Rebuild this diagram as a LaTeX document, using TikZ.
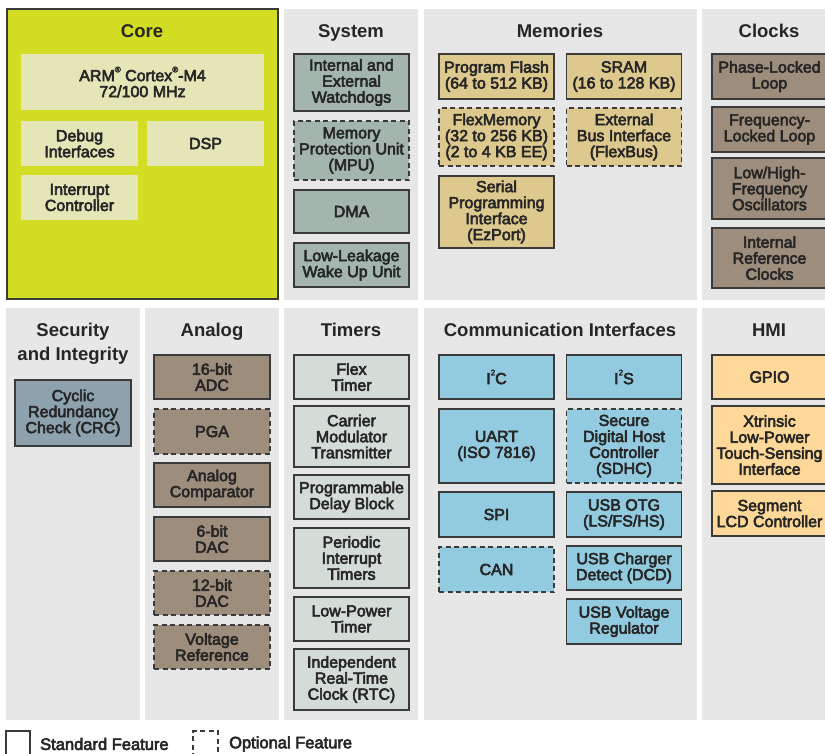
\documentclass[tikz,border=0pt]{standalone}
\usepackage{fontspec}
\setmainfont{Liberation Sans}
\newfontfamily\medsans{Liberation Sans}[FakeBold=3.5]
\newfontfamily\boldsans{Liberation Sans Bold}
\usepackage{xcolor}
\definecolor{panelgris}{HTML}{E7E7E7}
\definecolor{borde}{HTML}{3A3A3A}
\definecolor{corefondo}{HTML}{D3DD23}
\definecolor{coreclaro}{HTML}{E4E6B8}
\definecolor{sistema}{HTML}{A3B5AD}
\definecolor{memoria}{HTML}{DDC88E}
\definecolor{marron}{HTML}{9D8D7C}
\definecolor{seguridad}{HTML}{8EA2AD}
\definecolor{tempor}{HTML}{D4DCD7}
\definecolor{comunic}{HTML}{92CBE0}
\definecolor{hmicolor}{HTML}{FDD898}
\usetikzlibrary{positioning}
\newcommand{\supchico}[1]{\raisebox{0.55em}{\fontsize{8}{8}\selectfont #1}}

\begin{document}
\begin{tikzpicture}[
  x=1pt, y=-1pt,
  panel/.style={fill=panelgris, draw=none},
  titulo/.style={font=\boldsans\fontsize{18.5}{24}\selectfont, align=center,
                 text=black!85, inner sep=0pt, anchor=base},
  blk/.style={
    rectangle, draw=borde, line width=1.3pt,
    font=\medsans\fontsize{16}{16}\selectfont, text=black!85,
    align=center, inner sep=0pt, minimum width=115pt
  },
  opt/.style={dash pattern=on 5pt off 3.5pt},
  corebox/.style={blk, fill=coreclaro, draw=none, minimum width=117pt},
  sysbox/.style={blk, fill=sistema},
  membox/.style={blk, fill=memoria},
  clkbox/.style={blk, fill=marron},
  secbox/.style={blk, fill=seguridad, minimum width=116pt},
  anabox/.style={blk, fill=marron, minimum width=116pt},
  tmrbox/.style={blk, fill=tempor},
  combox/.style={blk, fill=comunic},
  hmibox/.style={blk, fill=hmicolor},
  leyenda/.style={font=\medsans\fontsize{16.5}{16}\selectfont, text=black!85,
                  anchor=west, inner sep=0pt}
]
  \clip (0,0) rectangle (825,753);
  \fill[white] (0,0) rectangle (825,753);

  % panels, top row
  \fill[corefondo] (7,9) rectangle (278,299);
  \draw[borde, line width=2.4pt] (7,9) rectangle (278,299);
  \path[panel] (284,9) rectangle (418,300);
  \path[panel] (424,9) rectangle (697,300);
  \path[panel] (702,9) rectangle (830,300);
  % panels, bottom row
  \path[panel] (6,308) rectangle (140,720);
  \path[panel] (145,308) rectangle (279,720);
  \path[panel] (284,308) rectangle (418,720);
  \path[panel] (424,308) rectangle (697,720);
  \path[panel] (702,308) rectangle (830,720);

  % Core
  \node[titulo] (tcore) at (142,37.5) {Core};
  \node[corebox, minimum width=243pt, minimum height=56pt] (arm) at (142.5,82)
    {ARM\supchico{®} Cortex\supchico{®}-M4\\72/100 MHz};
  \node[corebox, minimum height=45pt] (debug) at (79.5,143.5) {Debug\\Interfaces};
  \node[corebox, minimum height=45pt] (dsp) at (205.5,143.5) {DSP};
  \node[corebox, minimum height=45pt] (nvic) at (79.5,197.5) {Interrupt\\Controller};

  % System
  \node[titulo] (tsys) at (351,37.5) {System};
  \node[sysbox, minimum height=57pt] (wdog) at (351.5,82.5) {Internal and\\External\\Watchdogs};
  \node[sysbox, opt, minimum height=59pt] (mpu) at (351.5,150.5) {Memory\\Protection Unit\\(MPU)};
  \node[sysbox, minimum height=43pt] (dma) at (351.5,211.5) {DMA};
  \node[sysbox, minimum height=44pt] (llwu) at (351.5,265) {Low-Leakage\\Wake Up Unit};

  % Memories
  \node[titulo] (tmem) at (560,37.5) {Memories};
  \node[membox, minimum height=45pt] (pflash) at (496.5,76.5) {Program Flash\\(64 to 512 KB)};
  \node[membox, minimum height=45pt] (sram) at (624,76.5) {SRAM\\(16 to 128 KB)};
  \node[membox, opt, minimum height=58pt] (flexmem) at (496.5,137) {FlexMemory\\(32 to 256 KB)\\(2 to 4 KB EE)};
  \node[membox, opt, minimum height=58pt] (flexbus) at (624,137) {External\\Bus Interface\\(FlexBus)};
  \node[membox, minimum height=72pt] (ezport) at (496.5,212) {Serial\\Programming\\Interface\\(EzPort)};

  % Clocks
  \node[titulo] (tclk) at (769,37.5) {Clocks};
  \node[clkbox, minimum height=45pt] (pll) at (769.5,76.5) {Phase-Locked\\Loop};
  \node[clkbox, minimum height=45pt] (fll) at (769.5,129.5) {Frequency-\\Locked Loop};
  \node[clkbox, minimum height=61pt] (osc) at (769.5,188.5) {Low/High-\\Frequency\\Oscillators};
  \node[clkbox, minimum height=60pt] (irc) at (769.5,258) {Internal\\Reference\\Clocks};

  % Security and Integrity
  \node[titulo, anchor=center] (tsec) at (73,343.5) {Security\\and Integrity};
  \node[secbox, minimum height=66pt] (crc) at (73,413) {Cyclic\\Redundancy\\Check (CRC)};

  % Analog
  \node[titulo] (tana) at (212,336.5) {Analog};
  \node[anabox, minimum height=44pt] (adc) at (212,377) {16-bit\\ADC};
  \node[anabox, opt, minimum height=45pt] (pga) at (212,431.5) {PGA};
  \node[anabox, minimum height=44pt] (cmp) at (212,485) {Analog\\Comparator};
  \node[anabox, minimum height=44pt] (dacsix) at (212,539) {6-bit\\DAC};
  \node[anabox, opt, minimum height=44pt] (dactwelve) at (212,593) {12-bit\\DAC};
  \node[anabox, opt, minimum height=44pt] (vref) at (212,647) {Voltage\\Reference};

  % Timers
  \node[titulo] (ttmr) at (351,336.5) {Timers};
  \node[tmrbox, minimum height=44pt] (ftm) at (351.5,377) {Flex\\Timer};
  \node[tmrbox, minimum height=61pt] (cmt) at (351.5,436.5) {Carrier\\Modulator\\Transmitter};
  \node[tmrbox, minimum height=44pt] (pdb) at (351.5,497) {Programmable\\Delay Block};
  \node[tmrbox, minimum height=60pt] (pit) at (351.5,558) {Periodic\\Interrupt\\Timers};
  \node[tmrbox, minimum height=44pt] (lptmr) at (351.5,619) {Low-Power\\Timer};
  \node[tmrbox, minimum height=61pt] (rtc) at (351.5,679.5) {Independent\\Real-Time\\Clock (RTC)};

  % Communication Interfaces
  \node[titulo] (tcom) at (560,336.5) {Communication Interfaces};
  \node[combox, minimum height=44pt] (iic) at (496.5,377) {I\supchico{2}C};
  \node[combox, minimum height=74pt] (uart) at (496.5,446) {UART\\(ISO 7816)};
  \node[combox, minimum height=45pt] (spi) at (496.5,514.5) {SPI};
  \node[combox, opt, minimum height=45pt] (can) at (496.5,569.5) {CAN};
  \node[combox, minimum height=44pt] (iis) at (624,377) {I\supchico{2}S};
  \node[combox, opt, minimum height=74pt] (sdhc) at (624,446) {Secure\\Digital Host\\Controller\\(SDHC)};
  \node[combox, minimum height=45pt] (usbotg) at (624,514.5) {USB OTG\\(LS/FS/HS)};
  \node[combox, minimum height=44pt] (usbdcd) at (624,568) {USB Charger\\Detect (DCD)};
  \node[combox, minimum height=45pt] (usbreg) at (624,621.5) {USB Voltage\\Regulator};

  % HMI
  \node[titulo] (thmi) at (769,336.5) {HMI};
  \node[hmibox, minimum height=44pt] (gpio) at (769.5,377) {GPIO};
  \node[hmibox, minimum height=78pt] (tsi) at (769.5,445) {Xtrinsic\\Low-Power\\Touch-Sensing\\Interface};
  \node[hmibox, minimum height=45pt] (slcd) at (769.5,513.5) {Segment\\LCD Controller};

  % legend
  \node[blk, fill=white, minimum width=24pt, minimum height=30pt] (legstd) at (18,746) {};
  \node[leyenda] (txtstd) at (40,744) {Standard Feature};
  \node[blk, opt, fill=white, minimum width=25pt, minimum height=30pt] (legopt) at (205.5,746) {};
  \node[leyenda] (txtopt) at (229,744) {Optional Feature};
\end{tikzpicture}
\end{document}
